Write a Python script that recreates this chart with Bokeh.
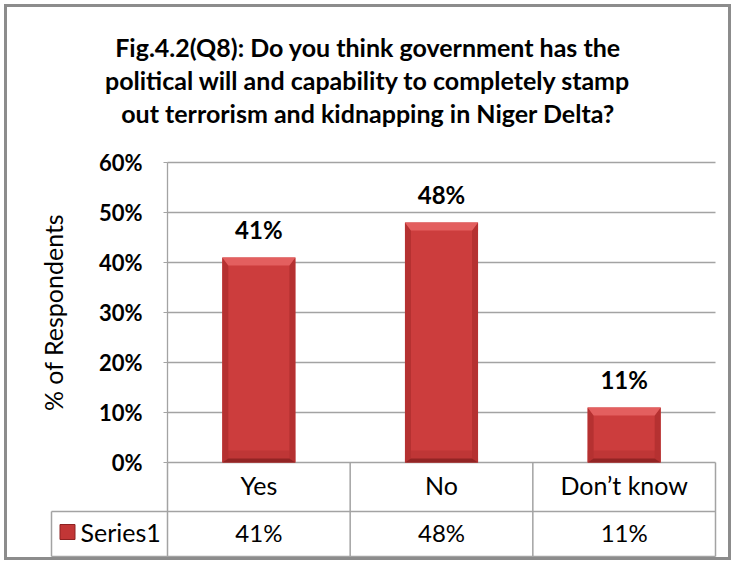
from bokeh.plotting import figure
from bokeh.layouts import column
from bokeh.models import Range1d, FixedTicker, NumeralTickFormatter
from bokeh.core.properties import value
from bokeh.embed import file_html
from bokeh.resources import INLINE

# ---------------- data ----------------
title_lines = [
    "Fig.4.2(Q8): Do you think government has the",
    "political will and capability to completely stamp",
    "out terrorism and kidnapping in Niger Delta?",
]
categories = ["Yes", "No", "Don\u2019t know"]
values = [0.41, 0.48, 0.11]
value_labels = ["41%", "48%", "11%"]
series_name = "Series1"
y_ticks = [0.0, 0.1, 0.2, 0.3, 0.4, 0.5, 0.6]
y_axis_title = "% of Respondents"

# ---------------- layout (pixels inside the outer border) ----------------
W, H = 721, 550
PLOT_L, PLOT_R, PLOT_T, PLOT_B = 160, 708, 155, 455   # plot area in the canvas
Y_MAX = y_ticks[-1]
FONT = "Lato"
GRID = "#a3a3a3"
n = len(categories)
PX_PER_CAT = (PLOT_R - PLOT_L) / n
x_per_px = 1 / PX_PER_CAT
y_per_px = Y_MAX / (PLOT_B - PLOT_T)
centers = [i + 0.5 for i in range(n)]
bar_w = 0.4

x_range = Range1d(-PLOT_L * x_per_px, (W - PLOT_L) * x_per_px)
y_range = Range1d(-(H - PLOT_B) * y_per_px, Y_MAX + PLOT_T * y_per_px)

p = figure(width=W, height=H, x_range=x_range, y_range=y_range,
           toolbar_location=None, output_backend="svg", min_border=0,
           x_axis_location=None, y_axis_location="left", outline_line_color=None)
p.grid.visible = False

ax = p.yaxis[0]
ax.fixed_location = 0
ax.bounds = (0, Y_MAX)
ax.ticker = FixedTicker(ticks=y_ticks)
ax.formatter = NumeralTickFormatter(format="0%")
ax.axis_label = y_axis_title
ax.axis_label_standoff = 28
ax.axis_label_text_font = FONT
ax.axis_label_text_font_size = "25px"
ax.axis_label_text_font_style = "normal"
ax.axis_label_text_color = "#000000"
ax.axis_line_color = GRID
ax.axis_line_width = 1.3
ax.major_tick_line_color = GRID
ax.major_tick_out = 4
ax.major_tick_in = 0
ax.minor_tick_line_color = None
ax.major_label_standoff = 21
ax.major_label_text_font = FONT
ax.major_label_text_font_style = "bold"
ax.major_label_text_font_size = "22px"
ax.major_label_text_color = "#000000"

# horizontal grid lines at the tick values, across the plot area only
p.segment(x0=[0] * len(y_ticks), y0=y_ticks, x1=[n] * len(y_ticks), y1=y_ticks,
          line_color=GRID, line_width=1.3)

# ---------------- title, centred on the whole chart ----------------
title_x = (W / 2 - PLOT_L) * x_per_px
title_base_px = [39.5, 72.5, 105.5]
p.text(x=[title_x] * len(title_lines),
       y=[Y_MAX + (PLOT_T - b) * y_per_px for b in title_base_px],
       text=title_lines, text_align="center", text_baseline="alphabetic",
       text_font=value(FONT), text_font_style="bold", text_font_size="25px",
       text_color="#000000")

# ---------------- bars with a bevel look ----------------
dx = 6 * x_per_px
dy_top = 8 * y_per_px
dy_bot = 4 * y_per_px
p.vbar(x=centers, top=values, width=bar_w, fill_color="#cc3d3d", line_color=None)
lx = [c - bar_w / 2 for c in centers]
rx = [c + bar_w / 2 for c in centers]
p.vbar(x=centers, top=[12 * y_per_px] * n, width=bar_w, fill_color="#a52b2b",
       fill_alpha=0.35, line_color=None)
p.patches(xs=[[l, l + dx, l + dx, l] for l in lx],
          ys=[[v, v - dy_top, dy_bot, 0] for v in values],
          fill_color="#b53131", line_color=None)
p.patches(xs=[[r, r - dx, r - dx, r] for r in rx],
          ys=[[v, v - dy_top, dy_bot, 0] for v in values],
          fill_color="#b53131", line_color=None)
p.patches(xs=[[l, l + dx, r - dx, r] for l, r in zip(lx, rx)],
          ys=[[0, dy_bot, dy_bot, 0] for v in values],
          fill_color="#922424", line_color=None)
p.patches(xs=[[l, r, r - dx, l + dx] for l, r in zip(lx, rx)],
          ys=[[v, v, v - dy_top, v - dy_top] for v in values],
          fill_color="#e35f5f", line_color=None)
p.text(x=centers, y=values, text=value_labels, y_offset=-28,
       text_align="center", text_baseline="alphabetic", text_font=value(FONT),
       text_font_style="bold", text_font_size="24px", text_color="#000000")

# ---------------- data table under the plot ----------------
row_edges = [0, -49 * y_per_px, -94 * y_per_px]
head_left = -116 * x_per_px
bounds = list(range(n + 1))
x0 = bounds + [head_left, head_left, head_left]
x1 = bounds + [head_left, n, n]
y0 = [row_edges[0]] * len(bounds) + [row_edges[1], row_edges[1], row_edges[2]]
y1 = [row_edges[2]] * len(bounds) + [row_edges[2], row_edges[1], row_edges[2]]
p.segment(x0=x0, y0=y0, x1=x1, y1=y1, line_color=GRID, line_width=1.5)

row1_y = (row_edges[0] + row_edges[1]) / 2 + 2 * y_per_px
row2_y = (row_edges[1] + row_edges[2]) / 2 + 2 * y_per_px
p.text(x=centers, y=[row1_y] * n, text=categories, text_align="center",
       text_baseline="middle", text_font=value(FONT), text_font_size="25px",
       text_color="#000000")
p.text(x=centers, y=[row2_y] * n, text=value_labels, text_align="center",
       text_baseline="middle", text_font=value(FONT), text_font_size="24px",
       text_color="#000000")
p.text(x=[head_left + 29 * x_per_px], y=[row2_y], text=[series_name], text_align="left",
       text_baseline="middle", text_font=value(FONT), text_font_size="25px",
       text_color="#000000")
p.rect(x=[head_left + 16 * x_per_px], y=[row2_y], width=15, height=15,
       width_units="screen", height_units="screen",
       fill_color="#c23636", line_color="#8e2222", line_width=1)

layout = column(p, styles={"border": "3px solid #8c8c8c", "margin": "4px"})

open("out.html", "w").write(file_html(layout, INLINE))
